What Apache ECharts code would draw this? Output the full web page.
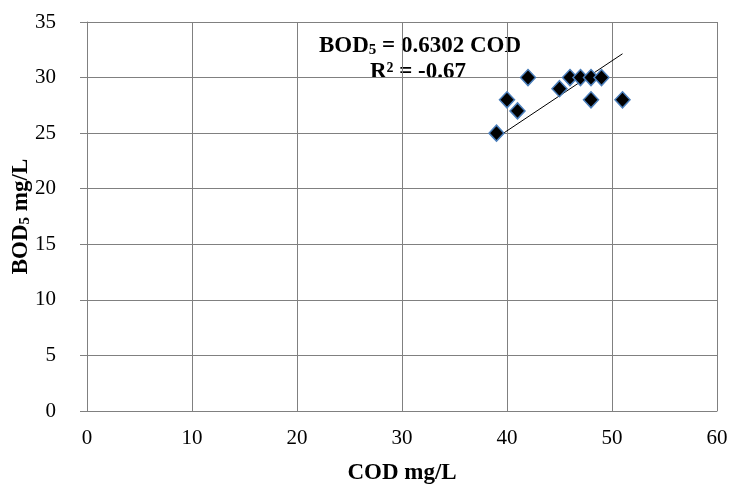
<!DOCTYPE html>
<html>
<head>
<meta charset="utf-8">
<script src="https://cdn.jsdelivr.net/npm/echarts@6/dist/echarts.min.js"></script>
<style>html,body{margin:0;padding:0;background:#fff;}#c{width:732px;height:484px;}</style>
</head>
<body>
<div id="c"></div>
<script>
const codValues = [39, 40, 41, 42, 45, 46, 47, 48, 48, 49, 51];
const bodValues = [25, 28, 27, 30, 29, 30, 30, 30, 28, 30, 28];
const trendSlope = 0.6302;
const trendRange = [39, 51];
const xTicks = [0, 10, 20, 30, 40, 50, 60];
const yTicks = [0, 5, 10, 15, 20, 25, 30, 35];
const eqLine1 = ['BOD', '5', ' = 0.6302 COD'];
const eqLine2 = 'R² = -0.67';

const points = codValues.map((x, i) => [x, bodValues[i]]);
const trend = trendRange.map(x => [x, +(trendSlope * x).toFixed(4)]);
const font = '"Liberation Serif", "Times New Roman", serif';

const chart = echarts.init(document.getElementById('c'), null, {renderer: 'canvas'});
chart.setOption({
  animation: false,
  grid: {left: 87, right: 15, top: 22, bottom: 73, show: false, containLabel: false, outerBoundsMode: 'none'},
  xAxis: {
    type: 'value', min: xTicks[0], max: xTicks[xTicks.length - 1], interval: 10,
    name: 'COD mg/L', nameLocation: 'middle', nameGap: 51, nameMoveOverlap: false,
    nameTextStyle: {fontFamily: font, fontWeight: 'bold', fontSize: 23, color: '#000'},
    axisLine: {show: true, lineStyle: {color: '#808080', width: 1}},
    axisTick: {show: false},
    axisLabel: {fontFamily: font, fontSize: 21, color: '#000', margin: 17},
    splitLine: {show: true, lineStyle: {color: '#808080', width: 1}}
  },
  yAxis: {
    type: 'value', min: yTicks[0], max: yTicks[yTicks.length - 1], interval: 5,
    name: '{b|BOD}{s|5}{b| mg/L}', nameLocation: 'middle', nameGap: 54, nameMoveOverlap: false,
    nameTextStyle: {
      fontFamily: font, fontWeight: 'bold', fontSize: 23, color: '#000',
      rich: {
        b: {fontFamily: font, fontWeight: 'bold', fontSize: 23, color: '#000'},
        s: {fontFamily: font, fontWeight: 'bold', fontSize: 15, color: '#000', verticalAlign: 'bottom'}
      }
    },
    axisLine: {show: true, lineStyle: {color: '#808080', width: 1}},
    axisTick: {show: true, length: 7, inside: false, lineStyle: {color: '#808080'}},
    axisLabel: {fontFamily: font, fontSize: 21, color: '#000', margin: 31},
    splitLine: {show: true, lineStyle: {color: '#808080', width: 1}}
  },
  series: [
    {
      type: 'line', data: trend, symbol: 'none', silent: true,
      lineStyle: {color: '#000', width: 1}, z: 2
    },
    {
      type: 'scatter', data: points, symbol: 'diamond', symbolSize: [15, 16],
      itemStyle: {color: '#000', borderColor: '#4a7ebb', borderWidth: 1.5, opacity: 1}, z: 3
    }
  ],
  graphic: [
    {
      type: 'text', silent: true,
      style: {
        x: 420, y: 46, align: 'center', verticalAlign: 'middle',
        text: '{b|' + eqLine1[0] + '}{s|' + eqLine1[1] + '}{b|' + eqLine1[2] + '}',
        rich: {
          b: {fontFamily: font, fontWeight: 'bold', fontSize: 23, fill: '#000'},
          s: {fontFamily: font, fontWeight: 'bold', fontSize: 15, fill: '#000', verticalAlign: 'bottom'}
        }
      }
    },
    {
      type: 'text', silent: true,
      style: {
        x: 418, y: 72, align: 'center', verticalAlign: 'middle',
        text: eqLine2, fontFamily: font, fontWeight: 'bold', fontSize: 23, fill: '#000'
      }
    }
  ]
});
</script>
</body>
</html>
